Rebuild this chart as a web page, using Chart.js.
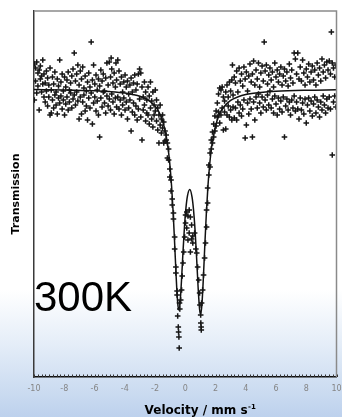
<!DOCTYPE html>
<html>
<head>
<meta charset="utf-8">
<script src="https://cdn.jsdelivr.net/npm/chart.js@4"></script>
<style>
  html, body { margin: 0; padding: 0; }
  body {
    width: 342px; height: 417px; overflow: hidden;
    background: linear-gradient(180deg, #ffffff 0px, #ffffff 290px, #e4edf8 345px, #c9daf0 395px, #bdd1ed 417px);
  }
</style>
</head>
<body>
<canvas id="spectrum" width="342" height="417"></canvas>
<script>
const leftWing = [
  [-9.98,1.0125],[-9.98,0.9945],[-9.90,1.0105],[-9.90,1.0040],[-9.82,1.0135],[-9.82,0.9980],
  [-9.74,1.0080],[-9.74,1.0015],[-9.66,1.0095],[-9.66,0.9895],[-9.58,1.0115],[-9.58,1.0050],
  [-9.50,1.0065],[-9.50,0.9985],[-9.42,1.0145],[-9.42,1.0025],[-9.34,1.0075],[-9.34,0.9960],
  [-9.26,1.0030],[-9.26,0.9935],[-9.18,1.0090],[-9.18,0.9990],[-9.10,1.0055],[-9.10,0.9915],
  [-9.02,1.0020],[-9.02,0.9960],[-8.94,1.0105],[-8.94,0.9870],[-8.86,0.9995],[-8.86,0.9880],
  [-8.78,1.0060],[-8.78,0.9945],[-8.70,1.0025],[-8.70,0.9905],[-8.62,1.0085],[-8.62,0.9970],
  [-8.54,0.9985],[-8.54,0.9920],[-8.46,1.0050],[-8.46,0.9875],[-8.38,1.0015],[-8.38,0.9955],
  [-8.30,1.0145],[-8.30,0.9930],[-8.22,1.0035],[-8.22,0.9965],[-8.14,1.0075],[-8.14,0.9900],
  [-8.06,0.9990],[-8.06,0.9945],[-7.98,1.0060],[-7.98,0.9870],[-7.90,1.0010],[-7.90,0.9925],
  [-7.82,1.0045],[-7.82,0.9960],[-7.74,1.0085],[-7.74,0.9895],[-7.66,0.9995],[-7.66,0.9935],
  [-7.58,1.0030],[-7.58,0.9980],[-7.50,1.0065],[-7.50,0.9905],[-7.42,1.0100],[-7.42,0.9950],
  [-7.34,1.0180],[-7.34,0.9970],[-7.26,1.0040],[-7.26,0.9920],[-7.18,1.0075],[-7.18,0.9985],
  [-7.10,1.0120],[-7.10,0.9940],[-7.02,1.0020],[-7.02,0.9850],[-6.94,1.0090],[-6.94,0.9960],
  [-6.86,1.0050],[-6.86,0.9875],[-6.78,1.0110],[-6.78,0.9935],[-6.70,1.0005],[-6.70,0.9970],
  [-6.62,1.0065],[-6.62,0.9890],[-6.54,0.9990],[-6.54,0.9915],[-6.46,1.0035],[-6.46,0.9845],
  [-6.38,1.0080],[-6.38,0.9955],[-6.30,1.0010],[-6.30,0.9905],[-6.22,1.0235],[-6.22,0.9980],
  [-6.14,1.0045],[-6.14,0.9825],[-6.06,1.0120],[-6.06,0.9930],[-5.98,1.0025],[-5.98,0.9960],
  [-5.90,1.0070],[-5.90,0.9890],[-5.82,0.9995],[-5.82,0.9940],[-5.74,1.0050],[-5.74,0.9870],
  [-5.66,1.0015],[-5.66,0.9760],[-5.58,1.0095],[-5.58,0.9955],[-5.50,1.0040],[-5.50,0.9910],
  [-5.42,1.0075],[-5.42,0.9985],[-5.34,0.9990],[-5.34,0.9930],[-5.26,1.0055],[-5.26,0.9880],
  [-5.18,1.0130],[-5.18,0.9965],[-5.10,1.0020],[-5.10,0.9915],[-5.02,1.0135],[-5.02,0.9950],
  [-4.94,1.0060],[-4.94,0.9895],[-4.90,1.0155],[-4.86,1.0100],[-4.86,0.9975],[-4.78,1.0030],
  [-4.78,0.9935],[-4.70,1.0080],[-4.70,0.9875],[-4.62,1.0010],[-4.62,0.9955],[-4.58,1.0130],
  [-4.54,1.0045],[-4.54,0.9910],[-4.46,1.0145],[-4.46,0.9960],[-4.38,1.0090],[-4.38,0.9900],
  [-4.30,1.0025],[-4.30,0.9945],[-4.22,1.0060],[-4.22,0.9870],[-4.14,0.9985],[-4.14,0.9920],
  [-4.06,1.0035],[-4.06,0.9955],[-3.98,1.0070],[-3.98,0.9895],[-3.90,1.0010],[-3.90,0.9935],
  [-3.82,1.0040],[-3.82,0.9850],[-3.74,0.9975],[-3.74,0.9905],[-3.66,1.0020],[-3.66,0.9945],
  [-3.58,1.0055],[-3.58,0.9790],[-3.50,0.9985],[-3.50,0.9885],[-3.42,1.0030],[-3.42,0.9930],
  [-3.34,1.0070],[-3.34,0.9870],[-3.26,0.9995],[-3.26,0.9915],[-3.18,1.0025],[-3.18,0.9845],
  [-3.10,1.0075],[-3.10,0.9900],[-3.02,1.0100],[-3.02,0.9950],[-2.94,1.0080],[-2.94,0.9860],
  [-2.86,1.0010],[-2.86,0.9745],[-2.78,0.9960],[-2.78,0.9895],[-2.70,1.0035],[-2.70,0.9920],
  [-2.62,0.9985],[-2.62,0.9840],[-2.54,0.9945],[-2.54,0.9880]
];

const doublet = [
  [-2.46,1.0010],[-2.46,0.9870],[-2.38,0.9965],[-2.38,0.9825],[-2.30,1.0035],[-2.30,0.9905],
  [-2.22,0.9940],[-2.22,0.9850],[-2.14,0.9985],[-2.14,0.9810],[-2.06,0.9920],[-2.06,0.9870],
  [-1.98,0.9995],[-1.98,0.9890],[-1.90,0.9945],[-1.90,0.9840],[-1.82,0.9905],[-1.82,0.9795],
  [-1.74,0.9730],[-1.74,0.9870],[-1.66,0.9920],[-1.66,0.9820],[-1.58,0.9850],[-1.58,0.9780],
  [-1.50,0.9870],[-1.50,0.9805],[-1.42,0.9730],[-1.42,0.9835],[-1.34,0.9790],[-1.34,0.9740],
  [-1.26,0.9745],[-1.26,0.9770],[-1.18,0.9730],[-1.18,0.9655],[-1.10,0.9700],[-1.10,0.9645],
  [-1.02,0.9600],[-1.02,0.9560],[-0.94,0.9545],[-0.94,0.9490],[-0.86,0.9450],[-0.86,0.9420],
  [-0.78,0.9350],[-0.78,0.9380],[-0.70,0.9260],[-0.70,0.9200],[-0.62,0.9080],[-0.62,0.9110],
  [-0.54,0.8990],[-0.54,0.8970],[-0.50,0.8865],[-0.46,0.8810],[-0.44,0.8785],[-0.42,0.8760],
  [-0.40,0.8705],[-0.38,0.8930],[-0.36,0.8900],
  [-0.30,0.8945],[-0.24,0.8995],[-0.20,0.9065],[-0.15,0.9130],[-0.10,0.9185],[-0.04,0.9260],
  [0.02,0.9330],[0.02,0.9370],[0.10,0.9385],[0.10,0.9305],[0.18,0.9365],[0.18,0.9245],
  [0.26,0.9395],[0.26,0.9280],[0.34,0.9360],[0.34,0.9185],[0.42,0.9320],[0.42,0.9250],
  [0.50,0.9265],[0.50,0.9230],
  [0.62,0.9280],[0.70,0.9200],[0.76,0.9180],[0.82,0.9110],[0.89,0.9045],[0.95,0.8980],
  [0.97,0.8920],[1.02,0.8870],[1.03,0.8830],[1.05,0.8810],[1.06,0.8795],
  [1.08,0.8930],[1.15,0.8995],[1.21,0.9070],[1.28,0.9155],[1.34,0.9230],[1.41,0.9310],
  [1.41,0.9395],[1.48,0.9430],[1.48,0.9505],
  [1.56,0.9620],[1.56,0.9570],[1.64,0.9680],[1.64,0.9610],[1.72,0.9745],[1.72,0.9700],
  [1.80,0.9785],[1.80,0.9730],[1.88,0.9825],[1.88,0.9760],[1.96,0.9865],[1.96,0.9790],
  [2.04,0.9890],[2.04,0.9815],[2.12,0.9930],[2.12,0.9860],[2.20,0.9975],[2.20,0.9885],
  [2.28,1.0005],[2.28,0.9830],[2.36,0.9995],[2.36,0.9870],[2.44,1.0010],[2.44,0.9905]
];

const rightWing = [
  [2.52,0.9960],[2.52,0.9795],[2.60,0.9940],[2.60,0.9885],[2.68,0.9985],[2.68,0.9800],
  [2.76,1.0020],[2.76,0.9870],[2.84,0.9960],[2.84,0.9915],[2.92,1.0035],[2.92,0.9860],
  [3.00,0.9990],[3.00,0.9895],[3.08,1.0045],[3.08,0.9845],[3.12,1.0120],
  [3.16,0.9970],[3.16,0.9910],[3.24,1.0060],[3.24,0.9855],[3.32,1.0030],[3.32,0.9905],
  [3.40,1.0090],[3.40,0.9845],[3.48,0.9985],[3.48,0.9935],[3.56,1.0105],[3.56,0.9880],
  [3.64,1.0040],[3.64,0.9920],[3.72,1.0075],[3.72,0.9865],[3.80,1.0015],[3.80,0.9900],
  [3.88,1.0110],[3.88,0.9945],[3.96,1.0050],[3.96,0.9755],[4.04,1.0085],[4.04,0.9820],
  [4.12,0.9990],[4.12,0.9930],[4.20,1.0065],[4.20,0.9875],[4.28,1.0125],[4.28,0.9950],
  [4.36,1.0035],[4.36,0.9900],[4.44,1.0075],[4.44,0.9760],[4.52,1.0140],[4.52,0.9935],
  [4.60,1.0020],[4.60,0.9845],[4.68,1.0095],[4.68,0.9960],[4.76,1.0050],[4.76,0.9905],
  [4.84,1.0130],[4.84,0.9975],[4.92,1.0010],[4.92,0.9930],[5.00,1.0080],[5.00,0.9880],
  [5.08,1.0115],[5.08,0.9960],[5.16,1.0040],[5.16,0.9910],[5.22,1.0235],
  [5.28,1.0090],[5.28,0.9945],[5.36,1.0120],[5.36,0.9895],[5.44,1.0025],[5.44,0.9970],
  [5.52,1.0070],[5.52,0.9920],[5.60,1.0105],[5.60,0.9990],[5.68,1.0045],[5.68,0.9905],
  [5.76,1.0085],[5.76,0.9950],[5.84,1.0010],[5.84,0.9880],[5.92,1.0130],[5.92,0.9965],
  [6.00,1.0060],[6.00,0.9925],[6.08,1.0095],[6.08,0.9870],[6.16,1.0035],[6.16,0.9955],
  [6.24,1.0075],[6.24,0.9900],[6.32,1.0110],[6.32,0.9940],[6.40,1.0020],[6.40,0.9885],
  [6.48,1.0065],[6.48,0.9960],[6.56,1.0100],[6.56,0.9760],[6.64,1.0040],[6.64,0.9915],
  [6.72,1.0085],[6.72,0.9950],[6.80,1.0015],[6.80,0.9895],[6.88,1.0125],[6.88,0.9935],
  [6.96,1.0055],[6.96,0.9870],[7.04,1.0095],[7.04,0.9945],[7.12,1.0030],[7.12,0.9905],
  [7.20,1.0180],[7.20,0.9965],[7.28,1.0150],[7.28,0.9890],[7.36,1.0075],[7.36,0.9935],
  [7.44,1.0180],[7.44,0.9900],[7.52,1.0050],[7.52,0.9850],[7.60,1.0110],[7.60,0.9955],
  [7.68,1.0040],[7.68,0.9895],[7.76,1.0145],[7.76,0.9930],[7.84,1.0080],[7.84,0.9875],
  [7.92,1.0020],[7.92,0.9950],[8.00,1.0100],[8.00,0.9830],[8.08,1.0060],[8.08,0.9920],
  [8.16,1.0125],[8.16,0.9955],[8.24,1.0035],[8.24,0.9890],[8.32,1.0085],[8.32,0.9940],
  [8.40,1.0115],[8.40,0.9865],[8.48,1.0045],[8.48,0.9925],[8.56,1.0095],[8.56,0.9960],
  [8.64,1.0020],[8.64,0.9880],[8.72,1.0130],[8.72,0.9945],[8.80,1.0070],[8.80,0.9910],
  [8.88,1.0105],[8.88,0.9860],[8.96,1.0040],[8.96,0.9935],[9.04,1.0150],[9.04,0.9895],
  [9.12,1.0085],[9.12,0.9965],[9.20,1.0120],[9.20,0.9920],[9.28,1.0055],[9.28,0.9880],
  [9.36,1.0135],[9.36,0.9950],[9.44,1.0095],[9.44,0.9905],[9.52,1.0140],[9.52,0.9960],
  [9.60,1.0075],[9.60,0.9900],[9.66,1.0285],[9.72,1.0130],[9.72,0.9670],
  [9.80,1.0105],[9.80,0.9935],[9.88,1.0060],[9.88,0.9965],[9.96,1.0120],[9.96,0.9910]
];

// fitted doublet curve
const fitCurve = [
  [-10,0.9997],[-8,0.9995],[-6,0.9991],[-5,0.9987],[-4,0.9980],[-3.5,0.9973],[-3,0.9964],
  [-2.5,0.9947],[-2,0.9915],[-1.75,0.9887],[-1.5,0.9841],[-1.25,0.9761],[-1.1,0.9682],
  [-1.0,0.9608],[-0.9,0.9510],[-0.8,0.9383],[-0.7,0.9227],[-0.6,0.9060],[-0.5,0.8930],
  [-0.43,0.8895],[-0.35,0.8924],[-0.25,0.9040],[-0.15,0.9185],[-0.05,0.9313],[0.05,0.9408],
  [0.15,0.9467],[0.3,0.9497],[0.45,0.9459],[0.55,0.9393],[0.65,0.9292],[0.75,0.9157],
  [0.85,0.9009],[0.95,0.8897],[1.02,0.8874],[1.1,0.8920],[1.2,0.9059],[1.3,0.9230],
  [1.4,0.9386],[1.5,0.9513],[1.6,0.9610],[1.75,0.9713],[2.0,0.9815],[2.25,0.9872],
  [2.5,0.9906],[3,0.9943],[3.5,0.9961],[4,0.9972],[5,0.9983],[6,0.9989],[8,0.9994],[10,0.9996]
];

const velocityTicks = [-10, -8, -6, -4, -2, 0, 2, 4, 6, 8, 10];
const minorStep = 0.25;
const tempLabel = "300K";
const xTitle = "Velocity / mm s";
const xTitleSup = "-1";
const yTitle = "Transmission";

const measured = [...leftWing, ...doublet, ...rightWing].map(([v, t]) => ({ x: v, y: t }));
const fit = fitCurve.map(([v, t]) => ({ x: v, y: t }));

/* ---------- frame, inner ticks, labels ---------- */
const decorations = {
  id: "decorations",
  afterDraw(chart) {
    const { ctx, chartArea: a, scales: { x } } = chart;
    ctx.save();

    // grey top + right edge of the box
    ctx.strokeStyle = "#8a8a8a";
    ctx.lineWidth = 1.5;
    ctx.beginPath();
    ctx.moveTo(a.left, a.top);
    ctx.lineTo(a.right, a.top);
    ctx.lineTo(a.right, a.bottom);
    ctx.stroke();

    // small inward ticks on the velocity axis
    ctx.strokeStyle = "#333";
    ctx.lineWidth = 1;
    ctx.beginPath();
    for (let v = x.min; v <= x.max + 1e-9; v += minorStep) {
      const px = Math.round(x.getPixelForValue(v)) + 0.5;
      ctx.moveTo(px, a.bottom);
      ctx.lineTo(px, a.bottom - 2.5);
    }
    ctx.stroke();

    // temperature label
    ctx.fillStyle = "#000";
    ctx.textBaseline = "alphabetic";
    ctx.font = '42px "Liberation Sans", Arial, sans-serif';
    ctx.fillText(tempLabel, a.left, 311);

    // x title with superscript
    ctx.font = 'bold 12px "DejaVu Sans"';
    const w1 = ctx.measureText(xTitle).width;
    ctx.font = 'bold 7px "DejaVu Sans"';
    const w2 = ctx.measureText(xTitleSup).width;
    const start = 200 - (w1 + w2) / 2;
    ctx.font = 'bold 12px "DejaVu Sans"';
    ctx.fillText(xTitle, start, 414);
    ctx.font = 'bold 7px "DejaVu Sans"';
    ctx.fillText(xTitleSup, start + w1 + 0.5, 409);

    ctx.restore();
  }
};

/* ---------- chart ---------- */
new Chart(document.getElementById("spectrum"), {
  type: "scatter",
  data: {
    datasets: [
      {
        data: measured,
        pointStyle: "cross",
        pointRadius: 2.8,
        pointBorderWidth: 1.5,
        pointBorderColor: "#151515",
        pointBackgroundColor: "#151515",
        showLine: false
      },
      {
        type: "line",
        data: fit,
        borderColor: "#111",
        borderWidth: 1.5,
        pointRadius: 0,
        cubicInterpolationMode: "monotone",
        fill: false
      }
    ]
  },
  options: {
    responsive: false,
    animation: false,
    layout: { padding: { top: 11, right: 3, bottom: 0, left: 0 } },
    plugins: { legend: { display: false }, tooltip: { enabled: false } },
    scales: {
      x: {
        type: "linear",
        min: -10,
        max: 10,
        afterBuildTicks: s => { s.ticks = velocityTicks.map(value => ({ value })); },
        ticks: { color: "#858585", font: { family: "DejaVu Sans", size: 8 }, padding: 7, maxRotation: 0, autoSkip: false },
        grid: { display: false, drawTicks: false },
        border: { display: true, color: "#111", width: 1.5 },
        afterFit: s => { s.height = 40; s.paddingLeft = 0; s.paddingRight = 0; }
      },
      y: {
        min: 0.856,
        max: 1.039,
        ticks: { display: false },
        grid: { display: false, drawTicks: false },
        border: { display: true, color: "#3a3a3a", width: 1.5 },
        title: {
          display: true,
          text: yTitle,
          color: "#000",
          font: { family: "DejaVu Sans", size: 11, weight: "bold" },
          padding: { top: 10, bottom: 0 }
        },
        afterFit: s => { s.width = 34; }
      }
    }
  },
  plugins: [decorations]
});
</script>
</body>
</html>
